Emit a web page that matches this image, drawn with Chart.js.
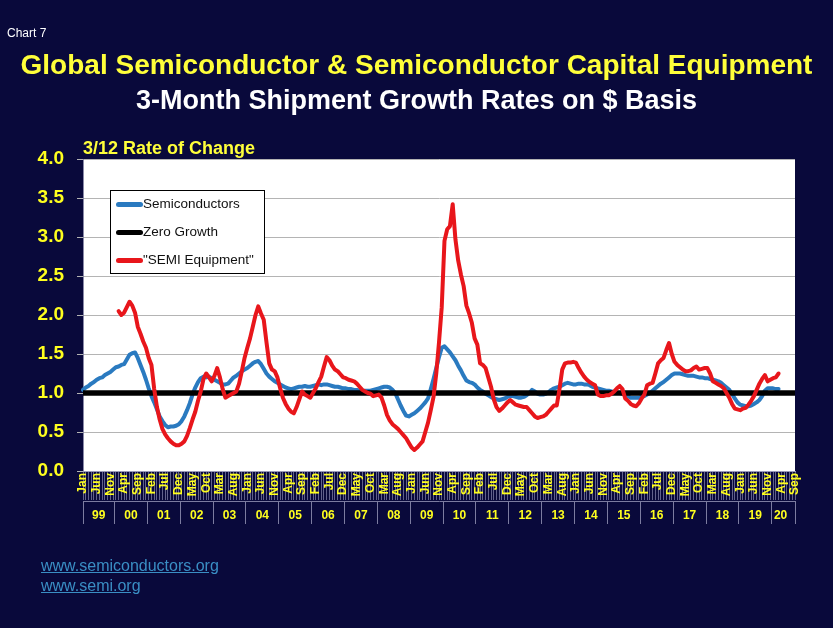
<!DOCTYPE html>
<html><head><meta charset="utf-8">
<script src="https://cdn.jsdelivr.net/npm/chart.js@4/dist/chart.umd.min.js"></script>
<style>
html,body{margin:0;padding:0;background:#09093b;width:833px;height:628px;overflow:hidden;font-family:Arial,"Liberation Sans",sans-serif;}
#wrap{position:relative;width:833px;height:628px;}
canvas{position:absolute;left:0;top:0;}
.t{position:absolute;white-space:nowrap;}
#chart7{left:7px;top:26px;font-size:12px;line-height:14px;color:#fff;}
#t1{left:0;width:833px;text-align:center;top:49px;font-size:28px;line-height:32px;font-weight:bold;color:#ffff3a;}
#t2{left:0;width:833px;text-align:center;top:84px;font-size:27px;line-height:32px;font-weight:bold;color:#fff;}
#sub{left:83px;top:138px;font-size:18px;line-height:20px;font-weight:bold;color:#ffff3a;}
.lnk{left:41px;font-size:16px;line-height:18px;color:#3a8ec4;text-decoration:underline;}
#l1{top:557px;} #l2{top:577px;}
#legend{position:absolute;left:110px;top:190px;width:153px;height:82px;background:#fff;border:1.5px solid #000;}
.row{position:absolute;left:5px;height:20px;}
.sw{position:absolute;left:0;top:8px;width:27px;height:5px;border-radius:3px;}
.lt{position:absolute;left:27px;top:2px;font-size:13.5px;line-height:16px;color:#111;white-space:nowrap;}
</style></head><body>
<div id="wrap">
<canvas id="c" width="833" height="628"></canvas>
<div class="t" id="chart7">Chart 7</div>
<div class="t" id="t1">Global Semiconductor &amp; Semiconductor Capital Equipment</div>
<div class="t" id="t2">3-Month Shipment Growth Rates on $ Basis</div>
<div class="t" id="sub">3/12 Rate of Change</div>
<div id="legend">
  <div class="row" style="top:3px"><div class="sw" style="background:#2a7ac0"></div><div class="lt">Semiconductors</div></div>
  <div class="row" style="top:31px"><div class="sw" style="background:#000"></div><div class="lt">Zero Growth</div></div>
  <div class="row" style="top:59px"><div class="sw" style="background:#e8161b"></div><div class="lt">"SEMI Equipment"</div></div>
</div>
<div class="t lnk" id="l1">www.semiconductors.org</div>
<div class="t lnk" id="l2">www.semi.org</div>
</div>
<script>
const monthNames = ['Jan','Feb','Mar','Apr','May','Jun','Jul','Aug','Sep','Oct','Nov','Dec'];
const yearLabels = ['99','00','01','02','03','04','05','06','07','08','09','10','11','12','13','14','15','16','17','18','19','20'];
const lastYearMonths = 9; // Jan..Sep 2020
const ZERO_LEVEL = 1.0;
const yTicks = ['0.0','0.5','1.0','1.5','2.0','2.5','3.0','3.5','4.0'];

// Semiconductors, monthly Jan 1999 .. Mar 2020
const semiconductors = [
 1.04,1.07,1.09,1.12,1.14,1.17,1.19,1.20,1.23,1.25,1.27,1.30,
 1.33,1.34,1.36,1.37,1.43,1.49,1.51,1.52,1.45,1.36,1.27,1.17,
 1.06,0.96,0.88,0.79,0.70,0.64,0.59,0.56,0.57,0.57,0.58,0.60,
 0.64,0.70,0.78,0.87,0.98,1.07,1.14,1.19,1.21,1.20,1.21,1.19,
 1.17,1.15,1.13,1.11,1.11,1.12,1.16,1.20,1.22,1.25,1.28,1.30,
 1.32,1.35,1.38,1.40,1.41,1.37,1.31,1.25,1.21,1.18,1.15,1.13,
 1.11,1.09,1.07,1.06,1.05,1.06,1.07,1.08,1.08,1.09,1.08,1.08,
 1.09,1.10,1.11,1.10,1.11,1.11,1.10,1.09,1.08,1.08,1.07,1.06,
 1.06,1.05,1.05,1.04,1.04,1.03,1.03,1.03,1.03,1.03,1.04,1.05,
 1.06,1.07,1.08,1.08,1.07,1.04,1.00,0.92,0.84,0.77,0.71,0.70,
 0.72,0.74,0.77,0.80,0.84,0.88,0.93,1.05,1.18,1.32,1.46,1.58,
 1.60,1.56,1.52,1.47,1.42,1.35,1.29,1.22,1.16,1.14,1.13,1.11,
 1.07,1.04,1.02,0.99,0.97,0.95,0.93,0.92,0.91,0.92,0.93,0.95,
 0.96,0.96,0.95,0.94,0.94,0.95,0.97,1.00,1.04,1.02,0.99,0.98,
 0.98,0.99,1.01,1.04,1.06,1.07,1.08,1.10,1.12,1.13,1.12,1.11,
 1.11,1.12,1.12,1.11,1.11,1.10,1.08,1.07,1.06,1.05,1.04,1.03,
 1.03,1.02,1.01,1.00,1.00,0.99,0.98,0.96,0.94,0.94,0.94,0.94,
 0.95,0.96,0.98,1.00,1.03,1.06,1.09,1.12,1.14,1.17,1.20,1.23,
 1.25,1.25,1.25,1.24,1.23,1.22,1.22,1.22,1.21,1.20,1.20,1.19,
 1.19,1.18,1.17,1.16,1.15,1.13,1.10,1.07,1.04,0.99,0.93,0.88,
 0.85,0.84,0.83,0.83,0.84,0.86,0.88,0.91,0.96,1.03,1.06,1.06,
 1.06,1.05,1.05
];

// "SEMI Equipment", monthly Jan 1999 .. Mar 2020 (starts Feb 2000)
const semiEquipment = [
 null,null,null,null,null,null,null,null,null,null,null,null,
 null,2.05,2.00,2.03,2.10,2.17,2.12,2.03,1.85,1.76,1.66,1.58,
 1.45,1.36,1.05,0.82,0.66,0.54,0.47,0.42,0.38,0.35,0.33,0.33,
 0.35,0.38,0.45,0.55,0.66,0.76,0.90,1.02,1.18,1.25,1.20,1.15,
 1.22,1.32,1.20,1.05,0.94,0.96,0.98,1.00,1.02,1.12,1.28,1.45,
 1.58,1.70,1.85,2.00,2.11,2.02,1.94,1.65,1.38,1.30,1.28,1.20,
 1.06,0.94,0.86,0.80,0.76,0.74,0.82,0.92,1.02,0.98,0.96,0.94,
 1.00,1.06,1.14,1.21,1.34,1.46,1.42,1.35,1.30,1.28,1.24,1.20,
 1.19,1.17,1.16,1.15,1.12,1.08,1.04,1.02,1.00,0.99,0.96,0.97,
 0.98,0.94,0.84,0.72,0.65,0.60,0.57,0.54,0.50,0.46,0.42,0.36,
 0.30,0.27,0.30,0.34,0.38,0.50,0.62,0.78,0.95,1.25,1.65,2.10,
 2.95,3.10,3.14,3.42,2.97,2.70,2.52,2.37,2.12,2.02,1.90,1.70,
 1.62,1.38,1.36,1.32,1.20,1.08,0.92,0.82,0.77,0.80,0.84,0.88,
 0.91,0.88,0.85,0.84,0.83,0.82,0.82,0.78,0.74,0.70,0.68,0.69,
 0.70,0.72,0.76,0.80,0.84,0.84,1.05,1.30,1.38,1.39,1.39,1.40,
 1.39,1.32,1.26,1.21,1.17,1.14,1.12,1.10,0.98,0.96,0.96,0.97,
 0.97,0.99,1.02,1.06,1.09,1.05,0.93,0.90,0.86,0.84,0.83,0.87,
 0.93,0.98,1.10,1.12,1.13,1.25,1.38,1.42,1.45,1.55,1.64,1.50,
 1.40,1.36,1.33,1.30,1.28,1.28,1.29,1.32,1.34,1.30,1.31,1.32,
 1.32,1.25,1.15,1.13,1.11,1.09,1.06,1.00,0.94,0.86,0.80,0.79,
 0.78,0.80,0.81,0.85,0.90,0.96,1.04,1.12,1.18,1.23,1.15,1.17,
 1.19,1.20,1.25
];

// build month category labels
const monthLabels = [];
yearLabels.forEach((y, yi) => {
  const n = (yi === yearLabels.length - 1) ? lastYearMonths : 12;
  for (let m = 0; m < n; m++) monthLabels.push(monthNames[m]);
});
const lastIdx = monthLabels.length - 1;

// year band ticks: boundaries and centres
const yearTickMap = new Map();
yearLabels.forEach((y, yi) => {
  const start = Math.max(0, yi * 12 - 0.5);
  const end = Math.min(lastIdx, yi * 12 + 11.5);
  yearTickMap.set(start, '');
  yearTickMap.set((start + end) / 2 - (yi === yearLabels.length - 1 ? 1 : 0), y);
});
yearTickMap.set(lastIdx, '');
const yearTickValues = Array.from(yearTickMap.keys()).sort((a, b) => a - b);

const FONT = 'Arial, "Liberation Sans", sans-serif';
const YELLOW = '#ffff1e';

const plotBg = {
  id: 'plotBg',
  beforeDraw(chart) {
    const a = chart.chartArea, ctx = chart.ctx;
    ctx.save();
    ctx.fillStyle = '#ffffff';
    ctx.fillRect(a.left, a.top, a.right - a.left, a.bottom - a.top);
    ctx.restore();
  }
};

new Chart(document.getElementById('c'), {
  type: 'line',
  data: {
    labels: monthLabels,
    datasets: [
      { label: 'Semiconductors', data: semiconductors, xAxisID: 'x', yAxisID: 'y',
        borderColor: '#2a7ac0', borderWidth: 4, pointRadius: 0, tension: 0, order: 3,
        borderJoinStyle: 'round', borderCapStyle: 'round' },
      { label: 'Zero Growth', data: [{x: 0, y: ZERO_LEVEL}, {x: lastIdx, y: ZERO_LEVEL}], xAxisID: 'x2', yAxisID: 'y',
        borderColor: '#000000', borderWidth: 5.5, pointRadius: 0, order: 2 },
      { label: '"SEMI Equipment"', data: semiEquipment, xAxisID: 'x', yAxisID: 'y',
        borderColor: '#e8161b', borderWidth: 4, pointRadius: 0, tension: 0, order: 1,
        borderJoinStyle: 'round', borderCapStyle: 'round', spanGaps: false }
    ]
  },
  options: {
    responsive: false,
    animation: false,
    devicePixelRatio: 1,
    layout: { padding: { left: 0, right: 38, top: 159, bottom: 103 } },
    plugins: { legend: { display: false }, tooltip: { enabled: false }, title: { display: false } },
    scales: {
      y: {
        min: 0, max: 4,
        afterBuildTicks: s => { s.ticks = yTicks.map(t => ({ value: parseFloat(t) })); },
        ticks: { color: YELLOW, padding: 13, font: { family: FONT, size: 19, weight: 'bold' },
                 callback: v => yTicks.find(t => parseFloat(t) === v) },
        grid: { color: '#b4b4b4', lineWidth: 1, tickLength: 6 },
        border: { color: '#8a8aa8' },
        afterFit: s => { s.width = 83; }
      },
      x: {
        type: 'category', position: 'bottom', weight: 0, offset: false,
        grid: { drawOnChartArea: false, drawTicks: true, tickLength: 29, color: 'rgba(170,170,205,0.55)', lineWidth: 1, offset: false },
        border: { display: true, color: '#9a9ab8' },
        ticks: { autoSkip: false, maxRotation: 90, minRotation: 90, padding: -27, color: YELLOW,
                 font: { family: FONT, size: 12, weight: 'bold' },
                 callback: function (v, i) { return i % 5 === 0 ? this.getLabelForValue(v) : ''; } },
        afterFit: s => { s.height = 30; }
      },
      x2: {
        type: 'linear', position: 'bottom', weight: 1, min: 0, max: lastIdx,
        afterBuildTicks: s => { s.ticks = yearTickValues.map(v => ({ value: v })); },
        grid: { drawOnChartArea: false, drawTicks: true, tickLength: 23,
                color: c => (c.tick && yearTickMap.get(c.tick.value) === '') ? '#7c7ca0' : 'rgba(0,0,0,0)' },
        border: { display: true, color: '#7c7ca0' },
        ticks: { autoSkip: false, maxRotation: 0, minRotation: 0, padding: -16, color: YELLOW,
                 font: { family: FONT, size: 12, weight: 'bold' },
                 callback: v => yearTickMap.get(v) || '' },
        afterFit: s => { s.height = 24; }
      }
    }
  },
  plugins: [plotBg]
});
</script>
</body></html>
